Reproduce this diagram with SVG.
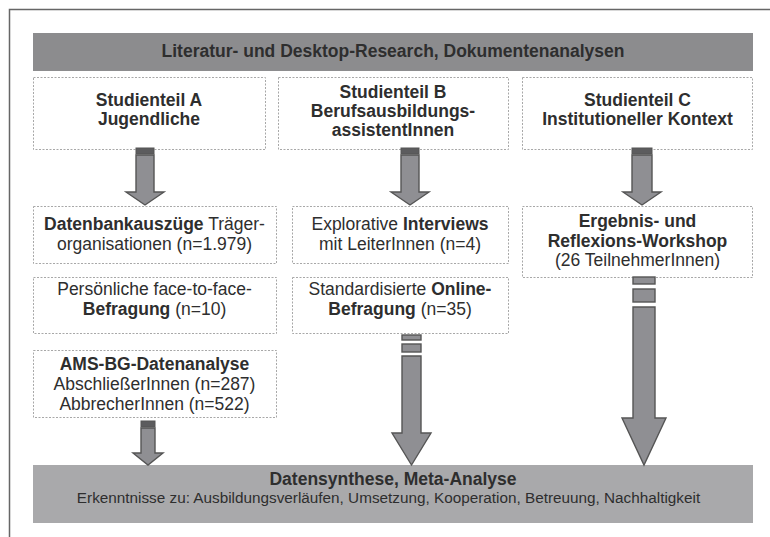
<svg xmlns="http://www.w3.org/2000/svg" width="770" height="537" viewBox="0 0 770 537">
<style>
text{font-family:"Liberation Sans",Arial,sans-serif;font-size:17.5px;fill:#2e2e2e;text-anchor:middle}
.b{font-weight:bold}
.box{fill:#fff;stroke:#a8a8a8;stroke-width:1;stroke-dasharray:2 1.5}
.arr{fill:#8f8f93;stroke:#555;stroke-width:1.4;stroke-linejoin:miter}
.band{fill:#5c5c5e;stroke:#555;stroke-width:1}
.frame{fill:none;stroke:#666;stroke-width:1.5}
</style>
<rect width="770" height="537" fill="#fff"/>
<path class="frame" d="M9.5,537 V9.5 H770"/>

<g id="top-banner">
<rect x="33" y="33" width="720" height="38" fill="#8c8c8e"/>
<text x="393" y="57" class="b">Literatur- und Desktop-Research, Dokumentenanalysen</text>
</g>

<g id="studienteil-a">
<rect class="box" x="33.5" y="77.5" width="232" height="72"/>
<text x="149" y="106" class="b">Studienteil A</text>
<text x="149" y="125" class="b">Jugendliche</text>
</g>
<g id="studienteil-b">
<rect class="box" x="278.5" y="77.5" width="230" height="72"/>
<text x="393" y="98" class="b">Studienteil B</text>
<text x="393" y="117" class="b">Berufsausbildungs-</text>
<text x="393" y="136" class="b">assistentInnen</text>
</g>
<g id="studienteil-c">
<rect class="box" x="522.5" y="77.5" width="230" height="72"/>
<text x="637.5" y="106" class="b">Studienteil C</text>
<text x="637.5" y="125" class="b">Institutioneller Kontext</text>
</g>

<g id="a-datenbank">
<rect class="box" x="33.5" y="206.5" width="243" height="57"/>
<text x="154.5" y="230"><tspan class="b">Datenbankauszüge</tspan> Träger-</text>
<text x="154.5" y="250">organisationen (n=1.979)</text>
</g>
<g id="a-befragung">
<rect class="box" x="33.5" y="277.5" width="243" height="56"/>
<text x="154.5" y="295">Persönliche face-to-face-</text>
<text x="154.5" y="315"><tspan class="b">Befragung</tspan> (n=10)</text>
</g>
<g id="a-ams">
<rect class="box" x="33.5" y="350.5" width="243" height="67"/>
<text x="154.5" y="370" class="b">AMS-BG-Datenanalyse</text>
<text x="154.5" y="390">AbschließerInnen (n=287)</text>
<text x="154.5" y="410">AbbrecherInnen (n=522)</text>
</g>

<g id="b-interviews">
<rect class="box" x="292.5" y="206.5" width="216" height="57"/>
<text x="400" y="230">Explorative <tspan class="b">Interviews</tspan></text>
<text x="400" y="250">mit LeiterInnen (n=4)</text>
</g>
<g id="b-online">
<rect class="box" x="292.5" y="277.5" width="216" height="56"/>
<text x="400" y="295">Standardisierte <tspan class="b">Online-</tspan></text>
<text x="400" y="315"><tspan class="b">Befragung</tspan> (n=35)</text>
</g>

<g id="c-workshop">
<rect class="box" x="522.5" y="206.5" width="230" height="71"/>
<text x="637.5" y="227" class="b">Ergebnis- und</text>
<text x="637.5" y="247" class="b">Reflexions-Workshop</text>
<text x="637.5" y="266">(26 TeilnehmerInnen)</text>
</g>

<g id="bottom-banner">
<rect x="33" y="465" width="720" height="58" fill="#a9a9ab"/>
<text x="393" y="485" class="b">Datensynthese, Meta-Analyse</text>
<text x="388.5" y="503" style="font-size:15.3px">Erkenntnisse zu: Ausbildungsverläufen, Umsetzung, Kooperation, Betreuung, Nachhaltigkeit</text>
</g>

<g id="connectors">
<!-- A top -->
<rect class="band" x="136" y="148" width="18" height="6"/>
<path class="arr" d="M136,155 H154 V192 H164 L145,205 L126,192 H136 Z"/>
<!-- B top -->
<rect class="band" x="401" y="148" width="18" height="6"/>
<path class="arr" d="M401,155 H419 V192 H429 L410,205 L391,192 H401 Z"/>
<!-- C top -->
<rect class="band" x="632" y="148" width="20" height="6"/>
<path class="arr" d="M632,155 H652 V192 H661 L642,205 L623,192 H632 Z"/>
<!-- A bottom -->
<rect class="band" x="141" y="421" width="14" height="6"/>
<path class="arr" d="M141,428 H155 V453 H163 L148,465 L133,453 H141 Z"/>
<!-- B bottom -->
<rect class="arr" x="402" y="335" width="19" height="5"/>
<rect class="arr" x="402" y="344" width="19" height="8"/>
<path class="arr" d="M402,356 H421 V433 H431 L411.5,465 L392,433 H402 Z"/>
<!-- C bottom -->
<rect class="arr" x="633" y="277" width="22" height="7"/>
<rect class="arr" x="633" y="289" width="22" height="13"/>
<path class="arr" d="M633,307 H655 V418 H666 L644,465 L622,418 H633 Z"/>
</g>
</svg>
